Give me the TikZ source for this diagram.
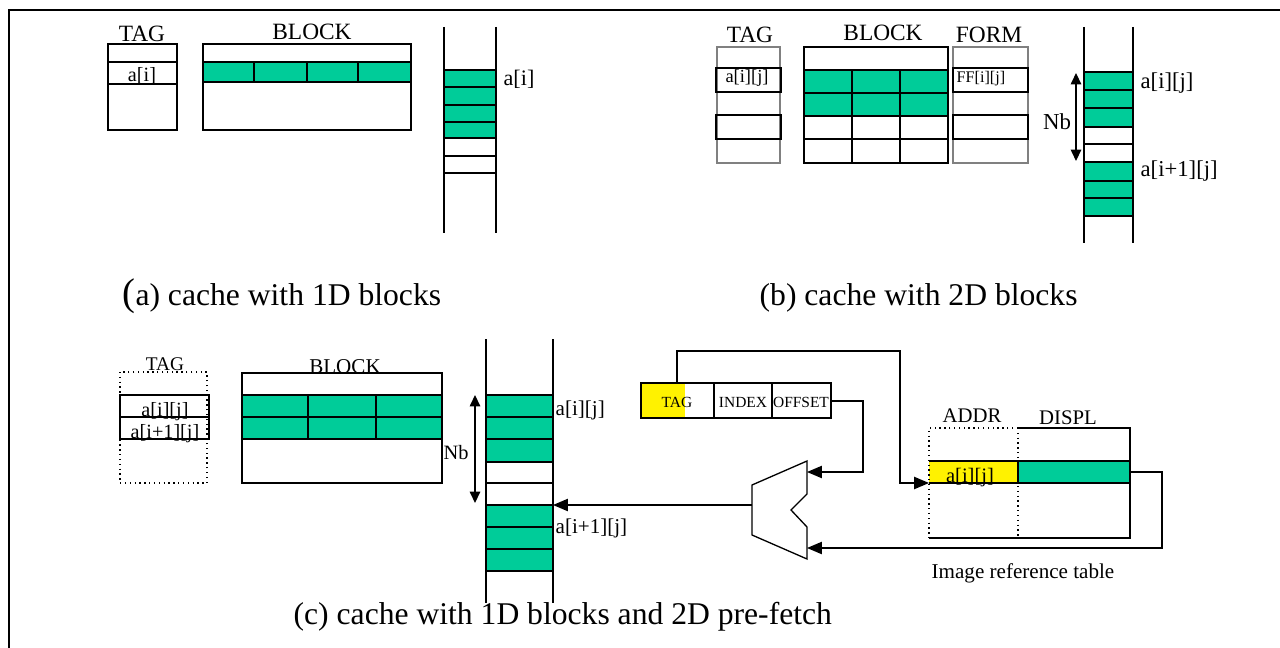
\documentclass[tikz,border=0pt]{standalone}
\usepackage{fontspec}
\setmainfont{Liberation Serif}
\usetikzlibrary{arrows.meta}
\definecolor{cachegreen}{RGB}{0,204,153}

\begin{document}
\begin{tikzpicture}[x=0.02cm,y=-0.02cm,line width=0.75pt,
  title/.style={font=\fontsize{13.3}{14}\selectfont,anchor=base,inner sep=0pt},
  entry/.style={font=\fontsize{11.5}{12}\selectfont,anchor=base,inner sep=0pt},
  tiny/.style={font=\fontsize{8.8}{9}\selectfont,anchor=base,inner sep=0pt},
  caption/.style={font=\fontsize{18}{20}\selectfont,anchor=base west,inner sep=0pt},
  bold/.style={line width=1.2pt},
  tip/.style={-{Triangle[length=8.5pt,width=7pt]}},
  both/.style={{Triangle[length=6.5pt,width=6pt]}-{Triangle[length=6.5pt,width=6pt]}}]
\useasboundingbox (0,0) rectangle (1280,648);
\draw[line width=1.4pt] (9,648) -- (9,10) -- (1280,10);

% (a) cache with 1D blocks
\node[title] (tagA) at (142,42) {TAG};
\draw (108,44) rectangle (177,130);
\draw (108,62) -- (177,62);
\draw (108,84) -- (177,84);
\node[entry] (aiA) at (142,82) {a[i]};
\node[title] (blockA) at (312,40) {BLOCK};
\draw (203,44) rectangle (411,130);
\filldraw[fill=cachegreen] (203,62) rectangle (411,82);
\draw (254,62) -- (254,82);
\draw (307,62) -- (307,82);
\draw (358,62) -- (358,82);
\draw (444,27) -- (444,233);
\draw (496,27) -- (496,233);
\foreach \a/\b in {70/87,87/105,105/122,122/138}
  \filldraw[fill=cachegreen] (444,\a) rectangle (496,\b);
\draw (444,138) rectangle (496,156);
\draw (444,156) rectangle (496,173);
\node[entry,anchor=base west,font=\fontsize{12.6}{13}\selectfont] (memA) at (503,86) {a[i]};
\node[caption] (capA) at (122,305) {{\fontsize{22}{22}\selectfont(}a) cache with 1D blocks};

% (b) cache with 2D blocks
\node[title] (tagB) at (750,43) {TAG};
\draw[gray] (717,47) rectangle (780,163);
\draw[gray] (717,68) -- (780,68);
\draw[gray] (717,139) -- (780,139);
\draw[bold] (716,68) rectangle (781,92);
\draw[bold] (716,115) rectangle (781,139);
\node[entry,font=\fontsize{10.5}{11}\selectfont] (aijB) at (747,83) {a[i][j]};
\node[title] (blockB) at (883,41) {BLOCK};
\draw[bold] (804,47) rectangle (948,163);
\filldraw[fill=cachegreen] (804,70) rectangle (948,116);
\draw (804,93) -- (948,93);
\draw[bold] (804,139) -- (948,139);
\draw (852,70) -- (852,116);
\draw (900,70) -- (900,116);
\draw[bold] (852,116) -- (852,163);
\draw[bold] (900,116) -- (900,163);
\node[title] (formB) at (989,43) {FORM};
\draw[gray] (953,47) rectangle (1028,163);
\draw[bold] (953,68) rectangle (1028,92);
\draw[bold] (953,115) rectangle (1028,139);
\node[entry,anchor=base west,font=\fontsize{9.2}{10}\selectfont] (ffB) at (956,83) {FF[i][j]};
\draw (1084,27) -- (1084,243);
\draw (1133,27) -- (1133,243);
\foreach \a/\b in {72/90,90/108,108/127,162/181,181/198,198/216}
  \filldraw[fill=cachegreen] (1084,\a) rectangle (1133,\b);
\draw (1084,127) rectangle (1133,144);
\draw (1084,144) rectangle (1133,162);
\draw[both] (1076,73) -- (1076,161);
\node[entry,font=\fontsize{13}{14}\selectfont] (nbB) at (1057,130) {Nb};
\node[entry,anchor=base west,font=\fontsize{12.9}{13}\selectfont] (memB1) at (1140,89) {a[i][j]};
\node[entry,anchor=base west,font=\fontsize{12.9}{13}\selectfont] (memB2) at (1140,177) {a[i+1][j]};
\node[caption] (capB) at (759,305) {(b) cache with 2D blocks};

% (c) cache with 1D blocks and 2D pre-fetch
\node[title,font=\fontsize{11}{12}\selectfont] (tagC) at (165,370) {TAG};
\draw[dotted] (120,372) rectangle (207,483);
\draw[bold] (120,395) rectangle (209,417);
\draw[bold] (120,417) rectangle (209,439);
\node[entry] (aijC) at (165,416) {a[i][j]};
\node[entry] (ai1jC) at (165,438) {a[i+1][j]};
\node[title,font=\fontsize{12}{13}\selectfont] (blockC) at (345,373) {BLOCK};
\draw (242,373) rectangle (442,483);
\filldraw[fill=cachegreen] (242,395) rectangle (442,439);
\draw (242,417) -- (442,417);
\draw (308,395) -- (308,439);
\draw (376,395) -- (376,439);
\draw (486,339) -- (486,603);
\draw (553,339) -- (553,603);
\foreach \a/\b in {395/417,417/439,439/462,505/527,527/549,549/571}
  \filldraw[fill=cachegreen] (486,\a) rectangle (553,\b);
\draw (486,462) rectangle (553,483);
\draw (486,483) rectangle (553,505);
\draw[both] (475,395) -- (475,503);
\node[entry,anchor=base west,font=\fontsize{11.6}{12}\selectfont] (nbC) at (443,459) {Nb};
\node[entry,anchor=base west,font=\fontsize{12}{13}\selectfont] (memC1) at (555,415) {a[i][j]};
\node[entry,anchor=base west,font=\fontsize{12}{13}\selectfont] (memC2) at (555,533) {a[i+1][j]};

% address
\fill[yellow] (641,383) rectangle (685,418);
\draw (641,383) rectangle (831,418);
\draw[bold] (714,383) -- (714,418);
\draw[bold] (772,383) -- (772,418);
\node[tiny] (tagfield) at (677,407) {TAG};
\node[tiny] (indexfield) at (743,407) {INDEX};
\node[tiny] (offsetfield) at (801,407) {OFFSET};
\coordinate (tagout) at (677,383);
\coordinate (offout) at (831,401);

% multiplexer
\draw (807,461) -- (752,485) -- (752,535) -- (807,559) -- (807,527) -- (791,510) -- (807,494) -- cycle;
\coordinate (muxin1) at (807,472);
\coordinate (muxin2) at (807,548);
\coordinate (muxout) at (752,505);
\coordinate (colin) at (553,505);

% image reference table
\node[title,font=\fontsize{11.8}{12}\selectfont] (addr) at (972,422) {ADDR};
\node[title,font=\fontsize{11.8}{12}\selectfont] (displ) at (1068,424) {DISPL};
\fill[yellow] (929,461) rectangle (1018,483);
\fill[cachegreen] (1018,461) rectangle (1130,483);
\draw[dotted] (1018,428) -- (929,428) -- (929,538);
\draw (1018,428) -- (1130,428) -- (1130,538) -- (929,538);
\draw[dotted] (1018,428) -- (1018,538);
\draw (929,461) -- (1130,461);
\draw (929,483) -- (1130,483);
\draw (1018,461) -- (1018,483);
\node[entry,font=\fontsize{11.7}{12}\selectfont] (aijT) at (970,482) {a[i][j]};
\node[entry,anchor=base west,font=\fontsize{12}{13}\selectfont] (irt) at (931,578) {Image reference table};
\coordinate (tblin) at (929,483);
\coordinate (tblout) at (1130,472);

% connectors
\draw[tip] (tagout) |- (900,351) |- (tblin);
\draw[tip] (offout) -| (863,472) -- (muxin1);
\draw[tip] (tblout) -| (1162,548) -- (muxin2);
\draw[tip] (muxout) -- (colin);

\node[caption] (capC) at (293,624) {(c) cache with 1D blocks and 2D pre-fetch};
\end{tikzpicture}
\end{document}
